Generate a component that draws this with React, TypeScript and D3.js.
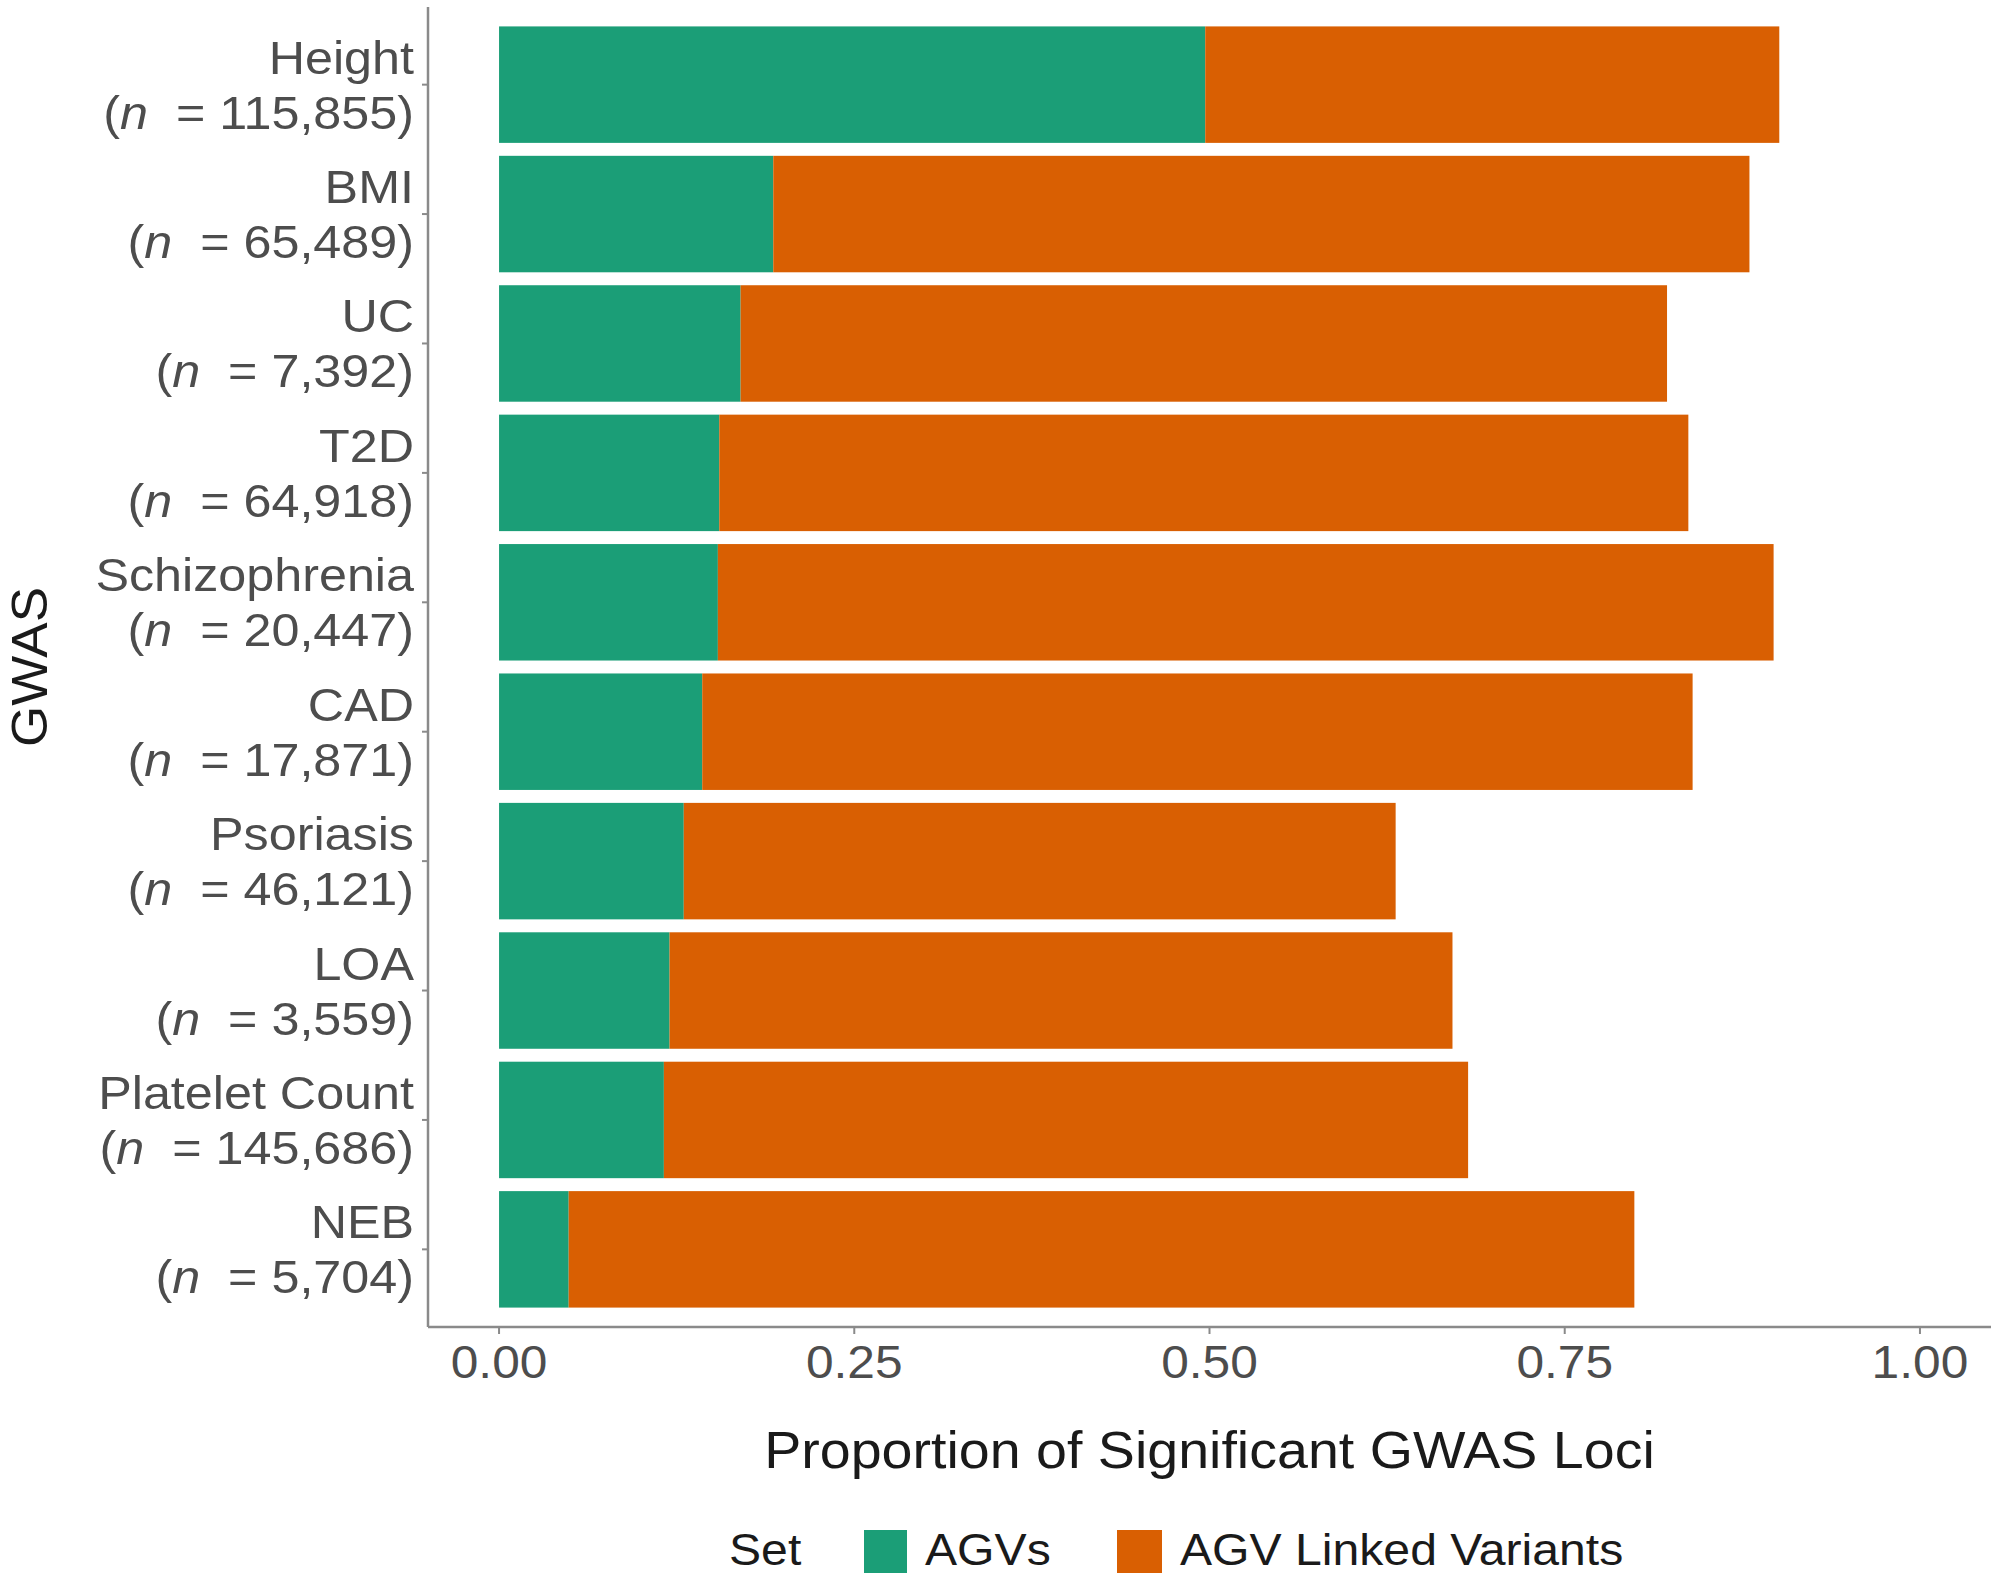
import React from "react";
import * as d3 from "d3";

const categories = ["Height", "BMI", "UC", "T2D", "Schizophrenia", "CAD", "Psoriasis", "LOA", "Platelet Count", "NEB"];
const sampleSizes = ["115,855", "65,489", "7,392", "64,918", "20,447", "17,871", "46,121", "3,559", "145,686", "5,704"];
const agvValues = [0.497, 0.193, 0.17, 0.155, 0.154, 0.143, 0.13, 0.12, 0.116, 0.049];
const linkedValues = [0.404, 0.687, 0.652, 0.682, 0.743, 0.697, 0.501, 0.551, 0.566, 0.75];
const seriesKeys = ["AGVs", "AGV Linked Variants"];
const seriesColors = ["#1B9E77", "#D95F02"];
const xTicks = [0, 0.25, 0.5, 0.75, 1];

const W = 2000;
const H = 1576;
const panel = { left: 428, right: 1991, top: 7, bottom: 1327 };
const FONT = "'Liberation Sans', Arial, Helvetica, sans-serif";
const GREY_TEXT = "#4D4D4D";
const AXIS_COLOR = "#8a8a8a";

export default function App() {
  const x = d3.scaleLinear().domain([-0.05, 1.05]).range([panel.left, panel.right]);
  const y = d3
    .scaleBand<string>()
    .domain(categories)
    .range([panel.top, panel.bottom])
    .paddingInner(0.1)
    .paddingOuter(0.15);

  const rows = categories.map((c, i) => ({
    cat: c,
    AGVs: agvValues[i],
    "AGV Linked Variants": linkedValues[i],
  }));
  const stacked = d3.stack<any>().keys(seriesKeys)(rows);
  const color = d3.scaleOrdinal<string, string>().domain(seriesKeys).range(seriesColors);
  const fmt = d3.format(".2f");

  return (
    <div style={{ position: "absolute", left: 0, top: 0, width: W, height: H, background: "#fff" }}>
      <svg width={W} height={H} style={{ display: "block", fontFamily: FONT }}>
        <rect x={0} y={0} width={W} height={H} fill="#fff" />
        {/* bars */}
        {stacked.map((layer) => (
          <g key={layer.key} fill={color(layer.key)}>
            {layer.map((d, i) => (
              <rect
                key={i}
                x={x(d[0])}
                y={y(categories[i])}
                width={x(d[1]) - x(d[0])}
                height={y.bandwidth()}
              />
            ))}
          </g>
        ))}

        {/* axes lines */}
        <line x1={panel.left} x2={panel.left} y1={panel.top} y2={panel.bottom} stroke={AXIS_COLOR} strokeWidth={2.5} />
        <line x1={panel.left} x2={panel.right} y1={panel.bottom} y2={panel.bottom} stroke={AXIS_COLOR} strokeWidth={2.5} />

        {/* y ticks and labels */}
        {categories.map((c, i) => {
          const cy = (y(c) as number) + y.bandwidth() / 2;
          return (
            <g key={c}>
              <line x1={panel.left - 6} x2={panel.left} y1={cy} y2={cy} stroke={AXIS_COLOR} strokeWidth={2} />
              <g transform={`translate(414,${cy - 11}) scale(1.07,1)`}>
                <text textAnchor="end" fontSize={47} fill={GREY_TEXT}>
                  {c}
                </text>
              </g>
              <g transform={`translate(414,${cy + 44}) scale(1.07,1)`}>
                <text textAnchor="end" fontSize={47} fill={GREY_TEXT} style={{ whiteSpace: "pre" }}>
                  {"("}
                  <tspan fontStyle="italic">n</tspan>
                  {"  = " + sampleSizes[i] + ")"}
                </text>
              </g>
            </g>
          );
        })}

        {/* x ticks and labels */}
        {xTicks.map((t) => (
          <g key={t}>
            <line x1={x(t)} x2={x(t)} y1={panel.bottom} y2={panel.bottom + 7} stroke={AXIS_COLOR} strokeWidth={2} />
            <g transform={`translate(${x(t)},1378) scale(1.08,1)`}>
              <text textAnchor="middle" fontSize={46} fill={GREY_TEXT}>
                {fmt(t)}
              </text>
            </g>
          </g>
        ))}

        {/* axis titles */}
        <g transform={`translate(${(panel.left + panel.right) / 2},1468) scale(1.09,1)`}>
          <text textAnchor="middle" fontSize={51} fill="#1a1a1a">
            Proportion of Significant GWAS Loci
          </text>
        </g>
        <g transform={`translate(47,${(panel.top + panel.bottom) / 2}) rotate(-90) scale(1.06,1)`}>
          <text textAnchor="middle" fontSize={50} fill="#1a1a1a">
            GWAS
          </text>
        </g>

        {/* legend */}
        <g transform="translate(729,1565) scale(1.07,1)">
          <text fontSize={45} fill="#1a1a1a">Set</text>
        </g>
        <rect x={864} y={1530} width={43} height={43} fill={seriesColors[0]} />
        <g transform="translate(925,1565) scale(1.07,1)">
          <text fontSize={45} fill="#1a1a1a">{seriesKeys[0]}</text>
        </g>
        <rect x={1117} y={1530} width={45} height={43} fill={seriesColors[1]} />
        <g transform="translate(1180,1565) scale(1.07,1)">
          <text fontSize={45} fill="#1a1a1a">{seriesKeys[1]}</text>
        </g>
      </svg>
    </div>
  );
}
